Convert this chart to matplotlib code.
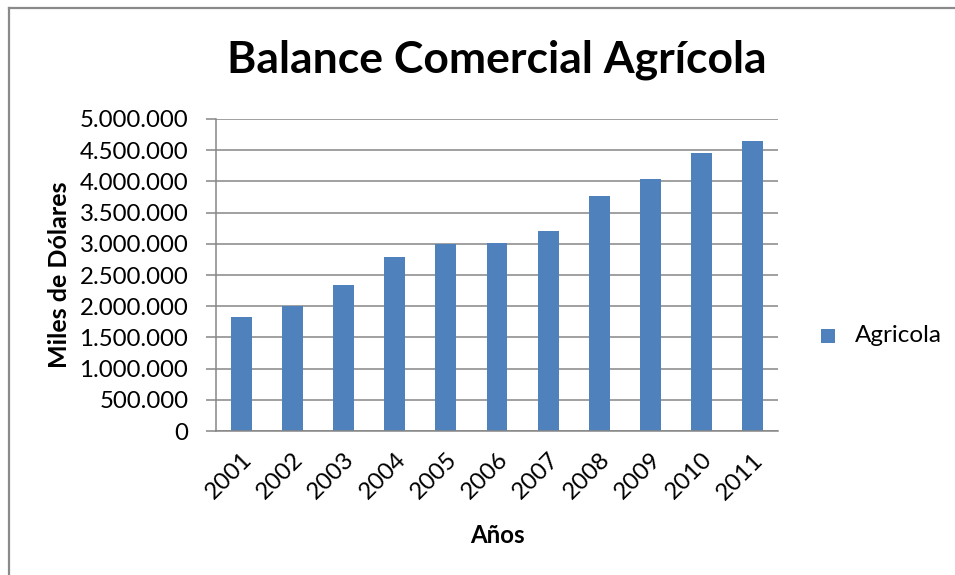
import matplotlib
matplotlib.use("Agg")
import matplotlib.pyplot as plt
from matplotlib.lines import Line2D
from matplotlib.ticker import FuncFormatter

years = ["2001", "2002", "2003", "2004", "2005", "2006",
         "2007", "2008", "2009", "2010", "2011"]
agricola = [1820000, 2002000, 2339000, 2794000, 2993000, 3009000,
            3207000, 3763000, 4036000, 4459000, 4641000]
y_ticks = [0, 500000, 1000000, 1500000, 2000000, 2500000,
           3000000, 3500000, 4000000, 4500000, 5000000]

plt.rcParams["font.family"] = ["Lato", "DejaVu Sans"]

W, H = 955, 575
fig = plt.figure(figsize=(W / 100, H / 100), dpi=100)
fig.patch.set_facecolor("white")

# outer chart-area frame (left and top edges visible)
fig.add_artist(Line2D([9 / W, 9 / W], [0, 1 - 7.5 / H], color="#8a8a8a",
                      lw=1.6, transform=fig.transFigure))
fig.add_artist(Line2D([9 / W, 1], [1 - 7.5 / H, 1 - 7.5 / H], color="#8a8a8a",
                      lw=1.6, transform=fig.transFigure))

left, right, top, bottom = 216, 778, 119, 431
ax = fig.add_axes([left / W, 1 - bottom / H, (right - left) / W, (bottom - top) / H])

x = list(range(len(years)))
ax.bar(x, agricola, width=0.41, color="#4F81BD", zorder=3)

ax.set_xlim(-0.5, len(years) - 0.5)
ax.set_ylim(0, 5000000)
ax.set_yticks(y_ticks)
ax.yaxis.set_major_formatter(FuncFormatter(lambda v, p: f"{int(v):,}".replace(",", ".")))
ax.grid(axis="y", color="#868686", lw=1.1, zorder=0)

for s in ["top", "right"]:
    ax.spines[s].set_visible(False)
for s in ["left", "bottom"]:
    ax.spines[s].set_color("#868686")
    ax.spines[s].set_linewidth(1.1)
    ax.spines[s].set_zorder(4)

ax.tick_params(axis="y", length=7, width=1.1, color="#868686", labelsize=17.3, pad=13)
ax.tick_params(axis="x", length=0, labelsize=17.3, pad=13)
ax.set_xticks(x)
ax.set_xticklabels(years, rotation=45, ha="right", rotation_mode="anchor")

ax.set_ylabel("Miles de Dólares", fontsize=18, fontweight="bold", labelpad=6)
ax.set_xlabel("Años", fontsize=17.3, fontweight="bold", labelpad=15)

fig.text(497 / W, 1 - 60 / H, "Balance Comercial Agrícola", fontsize=32,
         fontweight="bold", ha="center", va="center")

# legend
fig.add_artist(plt.Rectangle((821 / W, 1 - 343 / H), 14 / W, 14 / H,
                             facecolor="#4F81BD", transform=fig.transFigure))
fig.text(855 / W, 1 - 336 / H, "Agricola", fontsize=17.5, ha="left", va="center")

fig.savefig("out.png", dpi=100, facecolor="white")
